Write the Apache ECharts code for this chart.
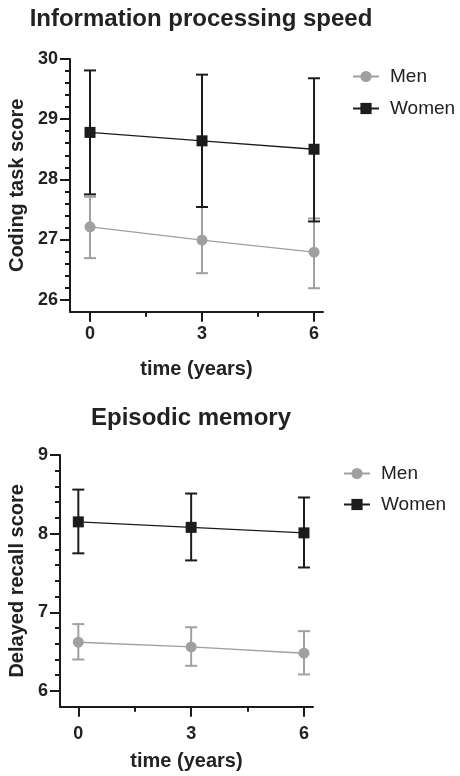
<!DOCTYPE html>
<html>
<head>
<meta charset="utf-8">
<script src="https://cdn.jsdelivr.net/npm/echarts@6/dist/echarts.min.js"></script>
<style>
html,body{margin:0;padding:0;background:#fff;}
#chart{width:460px;height:776px;}
</style>
</head>
<body>
<div id="chart"></div>
<script>
// ---- data ----
const years = [0, 3, 6];
const yearTicks = [0, 3, 6];
const yearMinorTicks = [1.5, 4.5];

const ipsMen = [27.21, 26.99, 26.79];
const ipsMenLow = [26.69, 26.44, 26.19];
const ipsMenHigh = [27.71, 27.54, 27.35];
const ipsWomen = [28.78, 28.64, 28.50];
const ipsWomenLow = [27.75, 27.54, 27.30];
const ipsWomenHigh = [29.81, 29.74, 29.68];
const ipsTicks = [26, 27, 28, 29, 30];
const ipsMinorTicks = [26.2, 26.4, 26.6, 26.8, 27.2, 27.4, 27.6, 27.8, 28.2, 28.4, 28.6, 28.8, 29.2, 29.4, 29.6, 29.8];

const recMen = [6.62, 6.56, 6.48];
const recMenLow = [6.40, 6.32, 6.21];
const recMenHigh = [6.85, 6.81, 6.76];
const recWomen = [8.15, 8.08, 8.01];
const recWomenLow = [7.75, 7.66, 7.57];
const recWomenHigh = [8.56, 8.51, 8.46];
const recTicks = [6, 7, 8, 9];
const recMinorTicks = [6.2, 6.4, 6.6, 6.8, 7.2, 7.4, 7.6, 7.8, 8.2, 8.4, 8.6, 8.8];

const titles = ['Information processing speed', 'Episodic memory'];
const yNames = ['Coding task score', 'Delayed recall score'];
const xName = 'time (years)';

// ---- style ----
const FONT = 'Liberation Sans, Arial, sans-serif';
const GRAY = '#a0a0a0';
const BLACK = '#1c1c1c';
const AXIS = '#1a1a1a';
const TEXT = '#222222';

const chart = echarts.init(document.getElementById('chart'), null, {renderer: 'canvas'});

function mainX(grid, min, max, gap, margin) {
  return {
    gridIndex: grid, type: 'value', min: min, max: max, position: 'bottom',
    axisLine: {show: true, onZero: false, lineStyle: {color: AXIS, width: 2}},
    axisTick: {show: true, customValues: yearTicks, length: 10, lineStyle: {color: AXIS, width: 2}},
    axisLabel: {show: true, customValues: yearTicks, margin: margin, fontSize: 18, fontWeight: 'bold', color: TEXT, fontFamily: FONT},
    splitLine: {show: false},
    name: xName, nameLocation: 'middle', nameGap: gap,
    nameTextStyle: {fontSize: 20, fontWeight: 'bold', color: TEXT, fontFamily: FONT}
  };
}
function minorX(grid, min, max) {
  return {
    gridIndex: grid, type: 'value', min: min, max: max, position: 'bottom',
    axisLine: {show: false, onZero: false},
    axisTick: {show: true, customValues: yearMinorTicks, length: 5, lineStyle: {color: AXIS, width: 2}},
    axisLabel: {show: false},
    splitLine: {show: false}
  };
}
function mainY(grid, min, max, ticks, name, gap) {
  return {
    gridIndex: grid, type: 'value', min: min, max: max, position: 'left',
    axisLine: {show: true, onZero: false, lineStyle: {color: AXIS, width: 2}},
    axisTick: {show: true, customValues: ticks, length: 10, lineStyle: {color: AXIS, width: 2}},
    axisLabel: {show: true, customValues: ticks, margin: 12, fontSize: 18, fontWeight: 'bold', color: TEXT, fontFamily: FONT},
    splitLine: {show: false},
    name: name, nameLocation: 'middle', nameGap: gap, nameRotate: 90,
    nameTextStyle: {fontSize: 20, fontWeight: 'bold', color: TEXT, fontFamily: FONT}
  };
}
function minorY(grid, min, max, ticks) {
  return {
    gridIndex: grid, type: 'value', min: min, max: max, position: 'left',
    axisLine: {show: false, onZero: false},
    axisTick: {show: true, customValues: ticks, length: 5, lineStyle: {color: AXIS, width: 2}},
    axisLabel: {show: false},
    splitLine: {show: false}
  };
}

function errSeries(name, xi, yi, low, high, color, z) {
  return {
    name: name, type: 'custom', xAxisIndex: xi, yAxisIndex: yi, z: z,
    silent: true,
    itemStyle: {color: color},
    data: years.map((y, i) => [y, low[i], high[i]]),
    encode: {x: 0, y: [1, 2]},
    renderItem: function (params, api) {
      const x = api.value(0);
      const pLo = api.coord([x, api.value(1)]);
      const pHi = api.coord([x, api.value(2)]);
      const hw = 6;
      const st = {stroke: color, lineWidth: 2, fill: null};
      return {
        type: 'group',
        children: [
          {type: 'line', shape: {x1: pLo[0], y1: pLo[1], x2: pHi[0], y2: pHi[1]}, style: st},
          {type: 'line', shape: {x1: pLo[0] - hw, y1: pLo[1], x2: pLo[0] + hw, y2: pLo[1]}, style: st},
          {type: 'line', shape: {x1: pHi[0] - hw, y1: pHi[1], x2: pHi[0] + hw, y2: pHi[1]}, style: st}
        ]
      };
    }
  };
}
function lineSeries(name, xi, yi, vals, color, symbol, z) {
  return {
    name: name, type: 'line', xAxisIndex: xi, yAxisIndex: yi, z: z,
    data: years.map((y, i) => [y, vals[i]]),
    symbol: symbol, symbolSize: 11, showAllSymbol: true,
    color: color,
    lineStyle: {color: color, width: 1.4},
    itemStyle: {color: color, borderWidth: 0},
    clip: false
  };
}

const option = {
  animation: false,
  backgroundColor: '#fff',
  textStyle: {fontFamily: FONT},
  title: [
    {text: titles[0], left: 196, top: 2, textAlign: 'center',
     textStyle: {fontSize: 24, fontWeight: 'bold', color: TEXT, fontFamily: FONT}},
    {text: titles[1], left: 186, top: 401, textAlign: 'center',
     textStyle: {fontSize: 24, fontWeight: 'bold', color: TEXT, fontFamily: FONT}}
  ],
  legend: [
    {orient: 'vertical', left: 347, top: 62, itemWidth: 26, itemHeight: 14, itemGap: 13,
     data: ['Men', 'Women'], lineStyle: {width: 2},
     textStyle: {fontSize: 19, color: TEXT, fontFamily: FONT, padding: [0, 0, 0, 6]}},
    {orient: 'vertical', left: 338, top: 459, itemWidth: 26, itemHeight: 14, itemGap: 12,
     data: ['Men', 'Women'], lineStyle: {width: 2},
     textStyle: {fontSize: 19, color: TEXT, fontFamily: FONT, padding: [0, 0, 0, 6]}}
  ],
  grid: [
    {left: 70, top: 59, width: 253, height: 252.7, containLabel: false, outerBoundsMode: 'none'},
    {left: 60, top: 455, width: 253, height: 251.7, containLabel: false, outerBoundsMode: 'none'}
  ],
  xAxis: [
    mainX(0, -0.536, 6.24, 48, 13),
    minorX(0, -0.536, 6.24),
    mainX(1, -0.487, 6.24, 45, 18),
    minorX(1, -0.487, 6.24)
  ],
  yAxis: [
    mainY(0, 25.8, 30, ipsTicks, yNames[0], 42),
    minorY(0, 25.8, 30, ipsMinorTicks),
    mainY(1, 5.8, 9, recTicks, yNames[1], 32),
    minorY(1, 5.8, 9, recMinorTicks)
  ],
  series: [
    errSeries('Men SD', 0, 0, ipsMenLow, ipsMenHigh, GRAY, 1),
    lineSeries('Men', 0, 0, ipsMen, GRAY, 'circle', 2),
    errSeries('Women SD', 0, 0, ipsWomenLow, ipsWomenHigh, BLACK, 3),
    lineSeries('Women', 0, 0, ipsWomen, BLACK, 'rect', 4),
    errSeries('Men SD', 2, 2, recMenLow, recMenHigh, GRAY, 1),
    lineSeries('Men', 2, 2, recMen, GRAY, 'circle', 2),
    errSeries('Women SD', 2, 2, recWomenLow, recWomenHigh, BLACK, 3),
    lineSeries('Women', 2, 2, recWomen, BLACK, 'rect', 4)
  ]
};
chart.setOption(option);
</script>
</body>
</html>
